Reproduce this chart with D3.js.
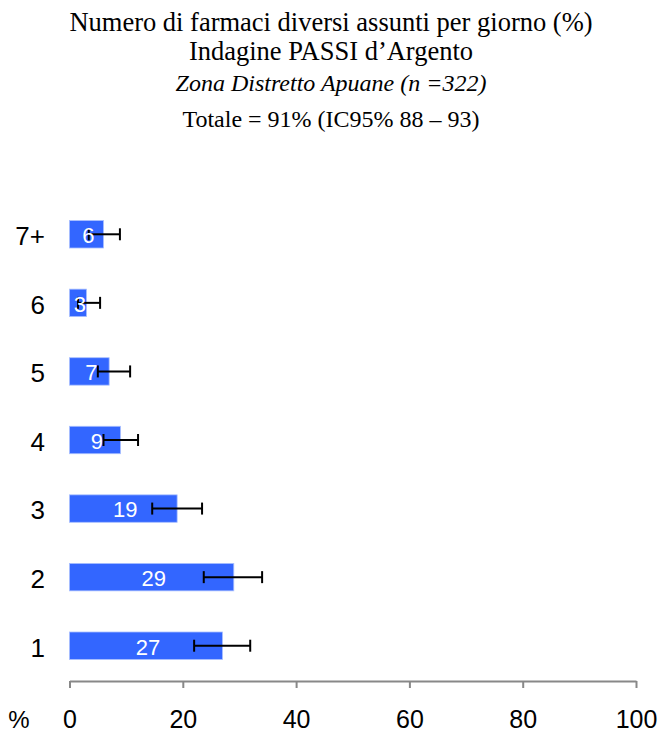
<!DOCTYPE html>
<html>
<head>
<meta charset="utf-8">
<script src="https://cdn.jsdelivr.net/npm/d3@7"></script>
<style>
  html, body { margin: 0; padding: 0; background: #fff; }
  svg { display: block; }
</style>
</head>
<body>
<svg id="chart" width="662" height="733"></svg>
<script>
// Number of different drugs taken per day, with 95% confidence intervals
const categories = ["7+", "6", "5", "4", "3", "2", "1"];
const values     = [6, 3, 7, 9, 19, 29, 27];
const ciLow      = [3.4, 1.5, 5.0, 6.0, 14.6, 23.7, 22.0];
const ciHigh     = [8.9, 5.4, 10.7, 12.1, 23.4, 34.0, 31.9];
const xTicks     = [0, 20, 40, 60, 80, 100];

const titleLines = [
  { text: "Numero di farmaci diversi assunti per giorno (%)", size: 26.5, italic: false, y: 31 },
  { text: "Indagine PASSI d\u2019Argento", size: 26.5, italic: false, y: 60 },
  { text: "Zona Distretto Apuane (n =322)", size: 24, italic: true, y: 91 },
  { text: "Totale = 91% (IC95% 88 \u2013 93)", size: 24, italic: false, y: 127 }
];

const svg = d3.select("#chart");

const x = d3.scaleLinear().domain([0, 100]).range([69.5, 636]);
const y = d3.scaleBand().domain(categories).range([200, 680]).paddingInner(0.6).paddingOuter(0.3);

// Titles
svg.append("g").selectAll("text").data(titleLines).join("text")
  .attr("x", 331).attr("y", d => d.y)
  .attr("text-anchor", "middle")
  .attr("font-family", "'Liberation Serif', 'Times New Roman', serif")
  .attr("font-size", d => d.size)
  .attr("font-style", d => d.italic ? "italic" : "normal")
  .attr("fill", "#000")
  .text(d => d.text);

const rows = categories.map((c, i) => ({ cat: c, v: values[i], lo: ciLow[i], hi: ciHigh[i] }));

// Bars
svg.append("g").selectAll("rect").data(rows).join("rect")
  .attr("x", x(0))
  .attr("y", d => y(d.cat))
  .attr("width", d => x(d.v) - x(0))
  .attr("height", y.bandwidth())
  .attr("fill", "#3366ff")
  .attr("stroke", "#a8bfff")
  .attr("stroke-width", 0.8);

// Confidence interval whiskers
const eb = svg.append("g").attr("stroke", "#000").attr("stroke-width", 2);
rows.forEach(d => {
  const cy = y(d.cat) + y.bandwidth() / 2;
  eb.append("line").attr("x1", x(d.lo)).attr("x2", x(d.hi)).attr("y1", cy).attr("y2", cy);
  eb.append("line").attr("x1", x(d.lo)).attr("x2", x(d.lo)).attr("y1", cy - 6).attr("y2", cy + 6);
  eb.append("line").attr("x1", x(d.hi)).attr("x2", x(d.hi)).attr("y1", cy - 6).attr("y2", cy + 6);
});

// Value labels drawn over the bars
svg.append("g").selectAll("text").data(rows).join("text")
  .attr("x", d => x(d.v / 2) + 2)
  .attr("y", d => y(d.cat) + y.bandwidth() / 2)
  .attr("dy", "0.4em")
  .attr("text-anchor", "middle")
  .attr("font-family", "'Liberation Sans', Arial, sans-serif")
  .attr("font-size", 22)
  .attr("fill", "#fff")
  .text(d => d.v);

// Category labels
svg.append("g").selectAll("text").data(rows).join("text")
  .attr("x", 45)
  .attr("y", d => y(d.cat) + y.bandwidth() / 2)
  .attr("dy", "0.42em")
  .attr("text-anchor", "end")
  .attr("font-family", "'Liberation Sans', Arial, sans-serif")
  .attr("font-size", 26)
  .attr("fill", "#000")
  .text(d => d.cat);

// X axis
const axis = svg.append("g")
  .attr("transform", "translate(0,681)")
  .call(d3.axisBottom(x).tickValues(xTicks).tickSize(7).tickPadding(0).tickSizeOuter(0));
axis.select(".domain").attr("stroke", "#888").attr("stroke-width", 2);
axis.selectAll(".tick line").attr("stroke", "#888").attr("stroke-width", 2);
axis.selectAll(".tick text")
  .attr("y", 47)
  .attr("dy", 0)
  .attr("font-family", "'Liberation Sans', Arial, sans-serif")
  .attr("font-size", 25)
  .attr("fill", "#000");

svg.append("text")
  .attr("x", 19).attr("y", 728)
  .attr("text-anchor", "middle")
  .attr("font-family", "'Liberation Sans', Arial, sans-serif")
  .attr("font-size", 24)
  .attr("fill", "#000")
  .text("%");
</script>
</body>
</html>
